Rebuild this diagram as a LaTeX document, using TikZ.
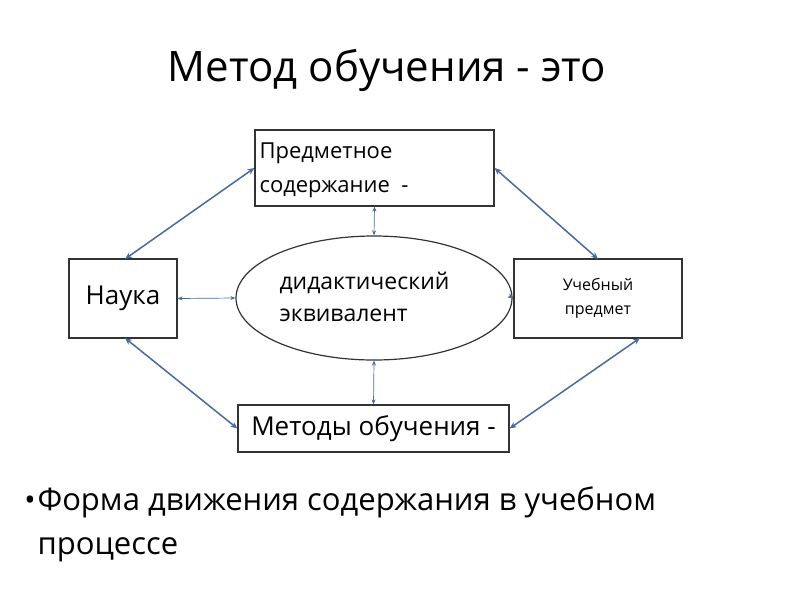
\documentclass[tikz,border=0pt]{standalone}
\usepackage{fontspec}
\setmainfont{Open Sans}
\usetikzlibrary{arrows.meta,shapes.geometric}
\definecolor{arr}{HTML}{4A6A9E}
\begin{document}
\begin{tikzpicture}[x=1pt,y=-1pt,
 box/.style={draw=black!80,line width=1.2pt,rectangle,inner sep=0},
 con/.style={draw=arr,line width=1.5pt,{Stealth[length=7pt,width=6pt]}-{Stealth[length=7pt,width=6pt]}},
 thin/.style={draw=arr,line width=0.7pt,{Stealth[length=5pt,width=4pt]}-{Stealth[length=5pt,width=4pt]}}]
\useasboundingbox (0,0) rectangle (800,600);
\node[font=\fontsize{42}{48}\selectfont] (title) at (387,70) {Метод обучения - это};
\node[box,minimum width=239,minimum height=76] (pred) at (374.5,168) {};
\node[anchor=west,font=\fontsize{22}{26}\selectfont] (predt) at (256,153) {Предметное};
\node[anchor=west,font=\fontsize{22}{26}\selectfont] (predt2) at (256,189) {содержание \ -};
\node[box,minimum width=108,minimum height=79,font=\fontsize{26}{30}\selectfont] (nauka) at (123,298.5) {Наука};
\node[box,minimum width=168,minimum height=79,align=center,font=\fontsize{16}{24}\selectfont] (ucheb) at (598,298.5) {Учебный\\ предмет};
\node[draw=black!80,line width=1.2pt,ellipse,minimum width=276,minimum height=124,inner sep=0] (ell) at (374,298) {};
\node[anchor=west,align=left,font=\fontsize{23}{32}\selectfont] (ellt) at (276,297) {дидактический\\ эквивалент};
\node[box,minimum width=271,minimum height=47,font=\fontsize{26}{30}\selectfont] (met) at (373.5,428.5) {Методы обучения -};
\coordinate (nt) at (125,259); \coordinate (nb) at (125,338);
\coordinate (ut) at (598,259); \coordinate (ub) at (640,338);
\draw[con] (nt) -- (pred.west);
\draw[con] (pred.east) -- (ut);
\draw[con] (nb) -- (met.west);
\draw[con] (met.east) -- (ub);
\draw[thin] (pred.south) -- (ell.north);
\draw[thin] (ell.south) -- (met.north);
\draw[thin] (nauka.east) -- (ell.west);
\draw[thin] (ell.east) -- (ucheb.west);
\node[font=\fontsize{30}{34}\selectfont] (bul) at (30,503) {•};
\node[anchor=north west,align=left,font=\fontsize{31}{44}\selectfont] (btext) at (34,483) {Форма движения содержания в учебном\\ процессе};
\end{tikzpicture}
\end{document}
